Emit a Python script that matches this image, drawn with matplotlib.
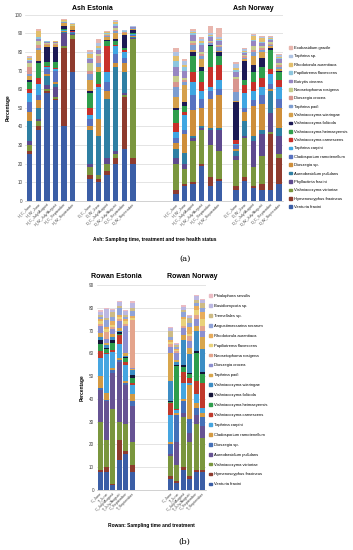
import matplotlib
matplotlib.use('Agg')
import matplotlib.pyplot as plt
import numpy as np
from matplotlib.patches import Patch

plt.rcParams['font.family'] = ['Liberation Sans', 'DejaVu Sans']

# ---------------- data: ash (a) ----------------
# species listed bottom -> top of each stack
ash_species = [
    'Venturia fraxini', 'Hymenoscyphus fraxineus', 'Vishniacozyma victoriae',
    'Phyllactinia fraxini', 'Aureobasidium pullulans', 'Dioszegia sp.',
    'Cladosporium ramotenellum', 'Taphrina carpini', 'Vishniacozyma carnescens',
    'Vishniacozyma heimaeyensis', 'Vishniacozyma foliicola', 'Vishniacozyma wieringae',
    'Taphrina padi', 'Dioszegia crocea', 'Neosetophoma rosigena', 'Botrytis cinerea',
    'Papiliotrema flavescens', 'Rhodotorula aurantiaca', 'Taphrina sp.', 'Exobasidium gracile',
]
ash_colors = [
    '#3B5EA6', '#8E3B2E', '#7A963E', '#5E4A8E', '#2F7FA3', '#CE8E3A',
    '#5872C0', '#3FA6E2', '#C8302A', '#2F9E4C', '#1C1A55', '#D5A04B',
    '#7D9DD0', '#D8958E', '#C6CC8C', '#9686C2', '#8DC6DE', '#E2BE6C',
    '#AFC3E3', '#E8B6AE',
]

ash_labels_h = ['H_C_June', 'H_W_June', 'H_C_July/August', 'H_W_July/August',
                'H_C_September', 'H_W_September']
ash_labels_d = ['D_C_June', 'D_W_June', 'D_C_July/August', 'D_W_July/August',
                'D_C_September', 'D_W_September']

# one row per bar, one value per species
ash_estonia_h = [
    [25, 2, 3, 2, 11, 5, 5, 5, 2, 4, 1, 2, 1, 4, 2, 1, 0.5, 1.5, 0.5, 0.5],
    [38, 2, 3, 1, 6, 4, 3, 6, 3, 8, 1, 6, 1, 2, 2, 1, 1, 3, 0.5, 1],
    [58, 1, 1, 2, 5, 1, 3, 1, 0.5, 2, 8, 1, 0.5, 0.5, 0.5, 0.5, 0.2, 0.1, 0.1, 0.1],
    [54, 1, 1, 5, 2, 1, 6, 1, 0.5, 3, 8, 1, 0.5, 0.5, 0.3, 0.5, 0.2, 0.2, 0.1, 0.1],
    [40, 42, 1, 7, 0.5, 0.5, 0.5, 0.3, 0.2, 0.3, 1.5, 2, 0.3, 0.2, 0.2, 0.2, 0.1, 0.5, 0.1, 0.1],
    [69, 18, 2, 0.5, 0.5, 0.3, 0.3, 0.2, 0.2, 0.3, 0.5, 2, 0.2, 0.2, 0.2, 0.2, 0.1, 0.5, 0.1, 0.1],
]
ash_estonia_d = [
    [12, 2, 4, 2, 18, 2, 4, 2, 4, 8, 1, 6, 3, 2, 4, 2, 1, 2, 1, 1],
    [10, 2, 2, 0, 21, 9, 0, 17, 2, 6, 0, 3, 2, 4, 1, 2, 1, 1, 2, 2],
    [14, 2, 4, 3, 32, 4, 5, 5, 14, 3, 0.5, 1.5, 0.5, 0.5, 0.5, 0.3, 0.2, 0.5, 0.3, 0.2],
    [20, 3, 2, 2, 45, 2, 5, 4, 1, 2, 1, 3, 1, 1, 1, 1, 1, 1, 0.5, 0.5],
    [28, 28, 1, 1, 11, 5, 3, 3, 1, 1, 7, 1, 0.3, 0.2, 0.2, 0.2, 0.1, 0.5, 0.3, 0.2],
    [20, 3, 64, 0.5, 0.5, 0.3, 1, 0.2, 0.2, 0.3, 2, 0.5, 0.2, 0.2, 0.1, 0.3, 0.1, 0.2, 0.2, 0.2],
]
ash_norway_h = [
    [4, 2, 14, 3, 5, 3, 3, 3, 5, 7, 1, 6, 5, 3, 3, 5, 3, 3, 2, 2],
    [8, 1, 8, 3, 6, 10, 2, 8, 2, 3, 2, 9, 2, 1, 1, 4, 2, 1, 2, 1],
    [9, 1, 22, 2, 1, 14, 8, 7, 5, 9, 2, 1, 3, 1, 1, 3, 1, 0.5, 0.5, 1.5],
    [19, 1, 18, 1, 1, 10, 5, 4, 5, 6, 2, 4, 2, 1, 1, 4, 1, 1, 1, 1],
    [8, 5, 17, 8, 1, 16, 4, 2, 11, 11, 0.5, 0.5, 1, 0.5, 0.5, 2, 0.5, 0.5, 1, 4],
    [11, 1, 15, 11, 1, 18, 3, 5, 8, 5, 2, 0.5, 2, 0.5, 1, 2, 0.5, 0.5, 1, 5],
]
ash_norway_d = [
    [6, 2, 14, 2, 3, 1, 2, 0.5, 2, 0.5, 20, 0.5, 5, 7, 1, 3, 1, 1, 2, 1],
    [11, 2, 21, 1, 8, 5, 2, 8, 4, 3, 10, 1, 1, 1, 0.5, 1, 0.5, 0.5, 1, 0.5],
    [7, 1, 10, 14, 3, 16, 3, 5, 5, 5, 4, 5, 2, 1, 2, 3, 0.5, 2, 0.5, 0.5],
    [6, 3, 15, 12, 2, 14, 5, 4, 5, 6, 5, 3, 1, 1, 1, 2, 0.5, 2, 0.5, 0.5],
    [6, 30, 1, 10, 12, 1, 3, 5, 3, 10, 1, 1, 1, 0.5, 1, 1, 0.5, 0.5, 0.5, 0.5],
    [9, 14, 2, 10, 4, 11, 5, 6, 4, 4, 1, 1, 1, 1, 1, 2, 0.5, 1, 1, 0.5],
]

# ---------------- data: rowan (b) ----------------
rowan_species = [
    'Venturia fraxini', 'Hymenoscyphus fraxineus', 'Vishniacozyma victoriae',
    'Aureobasidium pullulans', 'Dioszegia sp.', 'Cladosporium ramotenellum',
    'Taphrina carpini', 'Vishniacozyma carnescens', 'Vishniacozyma heimaeyensis',
    'Vishniacozyma foliicola', 'Vishniacozyma wieringae', 'Taphrina padi',
    'Dioszegia crocea', 'Neosetophoma rosigena', 'Papiliotrema flavescens',
    'Rhodotorula aurantiaca', 'Angustimassarina rosarum', 'Tremellales sp.',
    'Basidiomycota sp.', 'Phialophora sessilis',
]
rowan_colors = [
    '#3B5EA6', '#8E3B2E', '#7A963E', '#665393', '#4470B8', '#D49A42',
    '#45A5E0', '#C0392B', '#2F9E4C', '#141438', '#3C8DC4', '#D8A64C',
    '#8C8FD0', '#E4A48C', '#E9D27A', '#E7AC5C', '#8FA3D8', '#CDBB85',
    '#BCB8E2', '#EBBCC4',
]
rowan_labels = ['C_June', 'T_June', 'C_July/August', 'T_July/August',
                'C_September', 'T_September']

rowan_estonia = [
    [8, 1, 21, 14, 1, 5, 8, 3, 3, 2, 1, 2, 3, 1, 1, 1, 1, 1, 1, 1],
    [8, 2, 12, 17, 0.5, 3, 17, 0.5, 2, 0.5, 1, 1, 2, 3, 1, 1, 3, 1, 4, 0.5],
    [2, 0.5, 33, 16, 1, 1, 7, 1, 3, 1.5, 1, 1.5, 2, 1, 1, 1.5, 2, 2, 1, 0.5],
    [13, 9, 8, 26, 1, 1, 6, 4, 0.5, 1, 0.5, 1, 3, 1, 1, 1, 3, 1, 1.5, 0.5],
    [16, 1, 12, 17, 1, 1, 7, 1, 2, 0.5, 0.5, 1, 12, 1, 1, 1, 1, 1, 1.5, 0.5],
    [8, 3, 10, 16, 2, 3, 4, 1, 2, 1.5, 2, 0.5, 0.5, 21, 1, 1, 2, 1.5, 2, 1],
]
rowan_norway = [
    [5, 1, 9, 1, 4, 1, 12, 5, 0.5, 0.5, 9, 12, 3, 1, 1, 1, 1, 3, 1, 0.5],
    [3, 1, 7, 10, 12, 1, 1, 0.5, 19, 0.5, 1, 1, 3, 1, 0.5, 0.5, 1, 0.5, 0.5, 0.5],
    [9, 1, 22, 2, 5, 1, 7, 5, 2, 1, 11, 2, 3, 1, 3, 1, 2, 1, 1.5, 0.5],
    [5, 1, 15, 4, 6, 15, 1, 2, 2, 0.5, 8, 3, 3, 2, 1, 3, 2, 2, 1, 0.5],
    [8, 1, 20, 4, 3, 2, 4, 6, 12, 1, 9, 2, 3, 2, 2, 2, 1, 1.5, 1.5, 0.5],
    [8, 1, 14, 5, 4, 2, 2, 11, 4, 1, 10, 5, 3, 2, 3, 3, 2, 2, 1.5, 0.5],
]

W, H = 353, 550


def fx(px):
    return px / W


def fy(py):
    return 1 - py / H


def style_axes(ax, ymax):
    ax.set_ylim(0, ymax)
    ax.set_yticks(np.arange(0, ymax + 1, 10))
    ax.yaxis.grid(True, color='#D9D9D9', lw=0.5)
    ax.set_axisbelow(True)
    for s in ['left', 'top', 'right']:
        ax.spines[s].set_visible(False)
    ax.spines['bottom'].set_color('#BFBFBF')
    ax.spines['bottom'].set_linewidth(0.5)
    ax.tick_params(axis='both', length=0, labelsize=3.3, colors='#404040', pad=2)
    ax.tick_params(axis='x', labelsize=2.8, pad=1)
    ax.set_ylabel('Percentage', fontsize=3.5, fontweight='bold', labelpad=3)


def draw_stacks(ax, positions, bars, colors, width):
    vals = np.array(bars, dtype=float)
    bottom = np.zeros(len(positions))
    for i in range(vals.shape[1]):
        ax.bar(positions, vals[:, i], width=width, bottom=bottom,
               color=colors[i], linewidth=0)
        bottom += vals[:, i]


fig = plt.figure(figsize=(W / 100, H / 100), dpi=100)

# ---------- panel (a) ----------
ax_a = fig.add_axes([fx(25.4), fy(201), fx(258), 186.3 / H])
groups_a = [(0, ash_estonia_h, ash_labels_h), (7, ash_estonia_d, ash_labels_d),
            (17, ash_norway_h, ash_labels_h), (24, ash_norway_d, ash_labels_d)]
ticks, ticklabels = [], []
for start, bars, labels in groups_a:
    pos = np.arange(start, start + len(bars))
    draw_stacks(ax_a, pos, bars, ash_colors, 0.64)
    ticks += list(pos)
    ticklabels += labels
ax_a.set_xlim(-0.5, 29.5)
style_axes(ax_a, 100)
ax_a.set_xticks(ticks)
ax_a.set_xticklabels(ticklabels, rotation=45, ha='right', rotation_mode='anchor')
ax_a.set_xlabel('Ash: Sampling time, treatment and tree health status',
                fontsize=3.5, fontweight='bold', labelpad=7)

fig.text(fx(92), fy(8), 'Ash Estonia', ha='center', va='center', fontsize=5, fontweight='bold')
fig.text(fx(253), fy(8), 'Ash Norway', ha='center', va='center', fontsize=5, fontweight='bold')

handles = [Patch(color=c) for c in ash_colors][::-1]
fig.legend(handles, ash_species[::-1], loc='upper left',
           bbox_to_anchor=(fx(289), fy(46)), frameon=False, fontsize=3,
           handlelength=0.6, handleheight=0.6, handletextpad=0.6,
           labelspacing=1.05, borderpad=0, borderaxespad=0)

fig.text(fx(185), fy(259), '(a)', ha='center', va='center', fontsize=6,
         family='DejaVu Serif')

# ---------- panel (b) ----------
ax_b = fig.add_axes([fx(96.8), fy(490), fx(108.9), 205 / H])
groups_b = [(0, rowan_estonia), (11, rowan_norway)]
ticks, ticklabels = [], []
for start, bars in groups_b:
    pos = np.arange(start, start + len(bars))
    draw_stacks(ax_b, pos, bars, rowan_colors, 0.78)
    ticks += list(pos)
    ticklabels += rowan_labels
ax_b.set_xlim(-0.5, 16.5)
style_axes(ax_b, 90)
ax_b.set_xticks(ticks)
ax_b.set_xticklabels(ticklabels, rotation=45, ha='right', rotation_mode='anchor')
ax_b.set_xlabel('Rowan: Sampling time and treatment', fontsize=3.5,
                fontweight='bold', labelpad=8)

fig.text(fx(116), fy(276), 'Rowan Estonia', ha='center', va='center', fontsize=5, fontweight='bold')
fig.text(fx(192), fy(276), 'Rowan Norway', ha='center', va='center', fontsize=5, fontweight='bold')

handles = [Patch(color=c) for c in rowan_colors][::-1]
fig.legend(handles, rowan_species[::-1], loc='upper left',
           bbox_to_anchor=(fx(209), fy(294)), frameon=False, fontsize=3,
           handlelength=0.6, handleheight=0.6, handletextpad=0.6,
           labelspacing=1.42, borderpad=0, borderaxespad=0)

fig.text(fx(184), fy(542), '(b)', ha='center', va='center', fontsize=6,
         family='DejaVu Serif')

fig.savefig('out.png', dpi=100)
